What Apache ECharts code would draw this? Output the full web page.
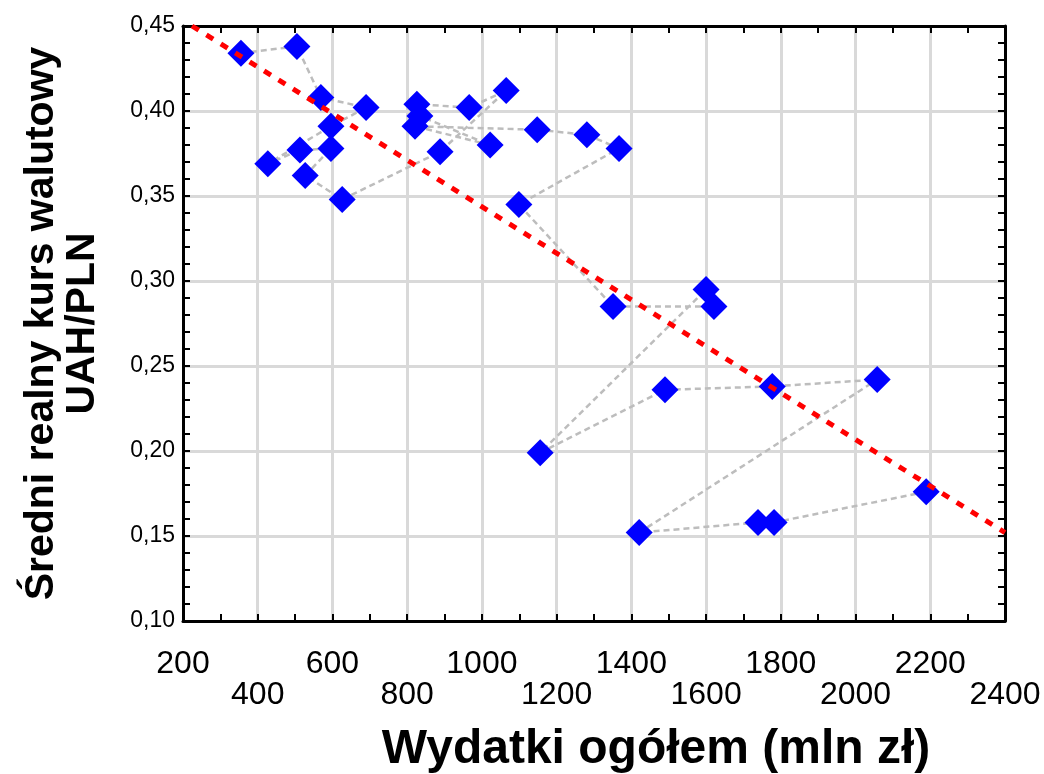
<!DOCTYPE html>
<html>
<head>
<meta charset="utf-8">
<script src="https://cdn.jsdelivr.net/npm/echarts@6/dist/echarts.min.js"></script>
<style>html,body{margin:0;padding:0;background:#fff}#c{width:1044px;height:774px}</style>
</head>
<body>
<div id="c"></div>
<script>
// Wydatki ogółem (mln zł), in the order the dashed line joins them
const spending = [355, 505, 569, 690, 596, 427, 513, 596, 527, 626, 888, 1065, 966, 826, 834, 1022, 821, 1148, 1281, 1367, 1099, 1351, 1621, 1600, 1156, 1490, 1777, 2058, 1421, 1739, 1782, 2189];
// Średni realny kurs walutowy UAH/PLN
const rate = [0.434, 0.438, 0.408, 0.402, 0.391, 0.369, 0.377, 0.378, 0.362, 0.348, 0.376, 0.412, 0.402, 0.404, 0.397, 0.380, 0.391, 0.389, 0.386, 0.378, 0.345, 0.285, 0.285, 0.295, 0.199, 0.236, 0.238, 0.242, 0.152, 0.158, 0.158, 0.176];
// linear trend end points
const trendX = [224, 2400];
const trendY = [0.450, 0.152];
const xTicks = [200, 400, 600, 800, 1000, 1200, 1400, 1600, 1800, 2000, 2200, 2400];
const yTicks = [0.10, 0.15, 0.20, 0.25, 0.30, 0.35, 0.40, 0.45];

const pts = spending.map((x, i) => [x, rate[i]]);
const trend = trendX.map((x, i) => [x, trendY[i]]);

const chart = echarts.init(document.getElementById('c'), null, {renderer: 'canvas'});
const tickStyle = {show: true, inside: true, length: 7, lineStyle: {color: '#000', width: 2}};
const minorStyle = {show: true, splitNumber: 2, length: 7, lineStyle: {color: '#000', width: 2}};
chart.setOption({
  animation: false,
  backgroundColor: '#fff',
  grid: {left: 183, right: 39, top: 26, bottom: 153, show: false},
  graphic: [{
    type: 'text', x: 656, y: 750, z: 10,
    style: {
      text: 'Wydatki ogółem (mln zł)', textAlign: 'center', textVerticalAlign: 'middle',
      font: 'bold 48px "Liberation Sans", Arial', fill: '#000'
    }
  }],
  xAxis: [{
    type: 'value', min: xTicks[0], max: xTicks[xTicks.length - 1], interval: 200,
    position: 'bottom',
    axisLine: {show: true, lineStyle: {color: '#000', width: 3}},
    axisTick: tickStyle,
    minorTick: minorStyle,
    splitLine: {show: true, lineStyle: {color: '#d9d9d9', width: 3}},
    axisLabel: {
      margin: 28, fontSize: 32, color: '#000', lineHeight: 31,
      showMinLabel: true, showMaxLabel: true, hideOverlap: false,
      fontFamily: 'Liberation Sans, Arial',
      formatter: function (v) { const i = xTicks.indexOf(v); return (i % 2 === 1 ? '\n' : '') + v; }
    }
  }, {
    type: 'value', min: xTicks[0], max: xTicks[xTicks.length - 1], interval: 200,
    position: 'top',
    axisLine: {show: true, lineStyle: {color: '#000', width: 3}},
    axisTick: tickStyle, minorTick: minorStyle,
    splitLine: {show: false}, axisLabel: {show: false}
  }],
  yAxis: [{
    type: 'value', min: yTicks[0], max: yTicks[yTicks.length - 1], interval: 0.05,
    position: 'left',
    axisLine: {show: true, lineStyle: {color: '#000', width: 3}},
    axisTick: tickStyle,
    minorTick: {show: true, splitNumber: 5, length: 7, lineStyle: {color: '#000', width: 2}},
    splitLine: {show: true, lineStyle: {color: '#d9d9d9', width: 3}},
    axisLabel: {
      margin: 8, fontSize: 23, color: '#000', fontFamily: 'Liberation Sans, Arial',
      formatter: v => v.toFixed(2).replace('.', ',')
    },
    name: 'Średni realny kurs walutowy\nUAH/PLN', nameLocation: 'middle', nameGap: 80,
    nameTextStyle: {fontSize: 41, fontWeight: 'bold', color: '#000', lineHeight: 41, fontFamily: 'Liberation Sans, Arial'}
  }, {
    type: 'value', min: yTicks[0], max: yTicks[yTicks.length - 1], interval: 0.05,
    position: 'right',
    axisLine: {show: true, lineStyle: {color: '#000', width: 3}},
    axisTick: tickStyle,
    minorTick: {show: true, splitNumber: 5, length: 7, lineStyle: {color: '#000', width: 2}},
    splitLine: {show: false}, axisLabel: {show: false}
  }],
  series: [{
    type: 'line', data: pts, showSymbol: false, symbol: 'none', z: 2,
    lineStyle: {color: '#bdbdbd', width: 2.5, type: [6, 4]}
  }, {
    type: 'scatter', data: pts, symbol: 'diamond', symbolSize: 27, z: 3,
    itemStyle: {color: '#0000ff', opacity: 1}
  }, {
    type: 'line', data: trend, showSymbol: false, symbol: 'none', z: 4, clip: true,
    lineStyle: {color: '#ff0000', width: 5, type: [8, 9]}
  }]
});
</script>
</body>
</html>
